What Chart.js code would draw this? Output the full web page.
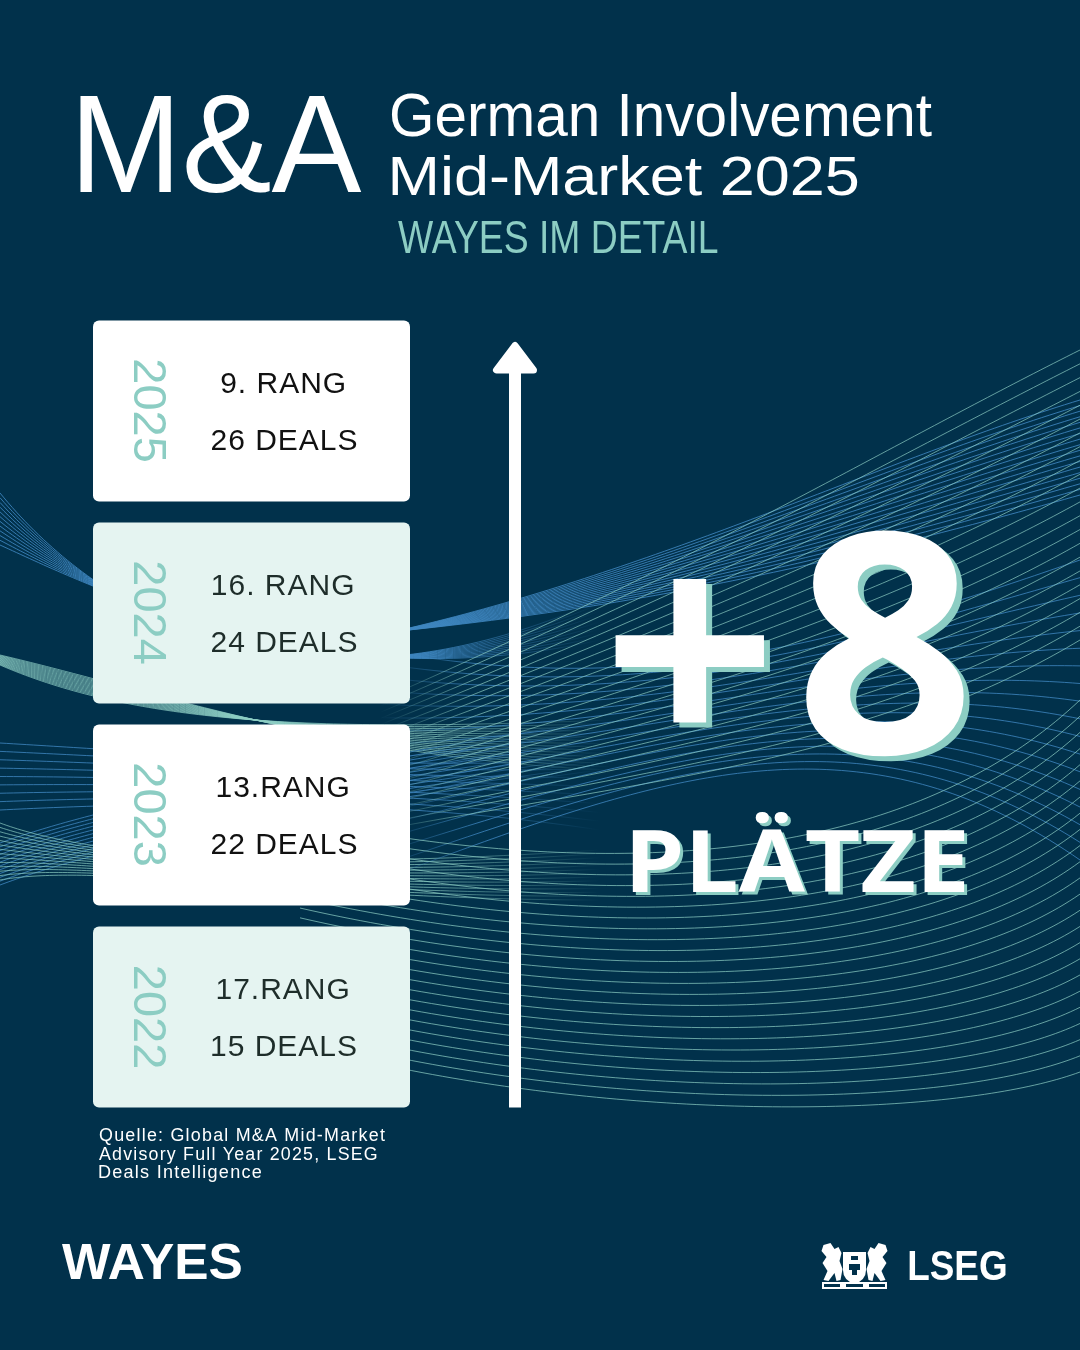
<!DOCTYPE html>
<html>
<head>
<meta charset="utf-8">
<script src="https://cdn.jsdelivr.net/npm/chart.js@4.4.1/dist/chart.umd.min.js"></script>
<style>
  html, body { margin: 0; padding: 0; background: #01314B; }
  canvas { display: block; }
</style>
</head>
<body>
<canvas id="c" width="1080" height="1350"></canvas>
<script>
// ---- data ----
const years = [2022, 2023, 2024, 2025];
const ranks = [17, 13, 16, 9];
const deals = [15, 22, 24, 26];
const rankSep = ['', '', ' ', ' '];

// ---- colours ----
const NAVY = '#01314B';
const TEAL = '#8CCDC3';
const MINT = '#E5F4F1';
const WHITE = '#FFFFFF';
const BLUE_RGB = '62,134,192';
const TEAL_RGB = '140,205,195';

// ---- decorative wave families (two boundary cubic curves, n lines between, alpha ramp along x) ----
const waves = [
  { c: BLUE_RGB, a: 0.85, n: 12, f: [[0,1],[430,1],[600,0]], P: [[0,493],[120,640],[330,720],[600,600]], Q: [[0,545],[120,600],[330,700],[600,640]] },
  { c: TEAL_RGB, a: 0.7,  n: 16, f: [[0,1],[430,1],[610,0]], P: [[0,655],[150,690],[350,760],[610,770]], Q: [[0,665],[150,730],[350,730],[610,720]] },
  { c: BLUE_RGB, a: 0.8,  n: 9,  f: [[0,1],[420,1],[600,0]], P: [[0,743],[200,755],[400,770],[600,760]], Q: [[0,810],[200,800],[400,800],[600,830]] },
  { c: BLUE_RGB, a: 0.8,  n: 12, f: [[0,1],[420,1],[600,0]], P: [[0,843],[120,800],[300,770],[600,720]], Q: [[0,885],[120,840],[300,810],[600,770]] },
  { c: TEAL_RGB, a: 0.7,  n: 14, f: [[0,1],[420,1],[600,0]], P: [[0,823],[100,860],[300,870],[600,850]], Q: [[0,880],[100,862],[300,900],[600,900]] },
  { c: BLUE_RGB, a: 0.85, n: 18, f: [[300,0],[440,1],[1080,1]], P: [[300,650],[600,600],[850,470],[1080,400]], Q: [[300,640],[620,615],[850,560],[1080,495]] },
  { c: BLUE_RGB, a: 0.8,  n: 18, f: [[380,0],[480,1],[1080,1]], P: [[380,650],[650,700],[850,640],[1080,560]], Q: [[380,880],[650,780],[850,700],[1080,860]] },
  { c: TEAL_RGB, a: 0.7,  n: 22, f: [[380,0],[480,1],[1080,1]], P: [[1080,350],[880,450],[700,560],[380,700]], Q: [[1080,640],[880,760],[650,780],[380,830]] },
  { c: TEAL_RGB, a: 0.72, n: 24, f: [[0,1],[1080,1]], P: [[300,820],[600,880],[900,870],[1080,700]], Q: [[300,1045],[600,1125],[950,1120],[1080,1072]] }
];

function bez(p, t) {
  const u = 1 - t;
  const a = u*u*u, b = 3*u*u*t, c = 3*u*t*t, d = t*t*t;
  return [a*p[0][0] + b*p[1][0] + c*p[2][0] + d*p[3][0],
          a*p[0][1] + b*p[1][1] + c*p[2][1] + d*p[3][1]];
}

function drawWaves(ctx) {
  ctx.save();
  ctx.lineWidth = 1;
  waves.forEach(fam => {
    const g = ctx.createLinearGradient(0, 0, 1080, 0);
    fam.f.forEach(([x, al]) => g.addColorStop(Math.min(1, Math.max(0, x / 1080)), 'rgba(' + fam.c + ',' + (al * fam.a).toFixed(3) + ')'));
    ctx.strokeStyle = g;
    for (let i = 0; i < fam.n; i++) {
      const s = fam.n === 1 ? 0 : i / (fam.n - 1);
      ctx.beginPath();
      for (let k = 0; k <= 90; k++) {
        const t = k / 90;
        const p = bez(fam.P, t), q = bez(fam.Q, t);
        const x = p[0] + (q[0] - p[0]) * s, y = p[1] + (q[1] - p[1]) * s;
        if (k === 0) ctx.moveTo(x, y); else ctx.lineTo(x, y);
      }
      ctx.stroke();
    }
  });
  ctx.restore();
}

// fit text ink into a box
function fitInk(ctx, text, font, L, T, R, B, color, shadow) {
  ctx.save();
  ctx.letterSpacing = '0px';
  ctx.textAlign = 'left';
  ctx.textBaseline = 'alphabetic';
  ctx.font = font.replace('{S}', '100');
  const m0 = ctx.measureText(text);
  const k0 = (B - T) / (m0.actualBoundingBoxAscent + m0.actualBoundingBoxDescent);
  ctx.font = font.replace('{S}', (100 * k0).toFixed(2));
  const m = ctx.measureText(text);
  const asc = m.actualBoundingBoxAscent, desc = m.actualBoundingBoxDescent;
  const l = m.actualBoundingBoxLeft, r = m.actualBoundingBoxRight;
  const sy = (B - T) / (asc + desc);
  const sx = (R - L) / (l + r);
  const draw = (dx, dy, c) => {
    ctx.save();
    ctx.translate(L + dx, T + dy);
    ctx.scale(sx, sy);
    ctx.fillStyle = c;
    ctx.fillText(text, l, asc);
    ctx.restore();
  };
  if (shadow) draw(shadow.dx, shadow.dy, shadow.color);
  draw(0, 0, color);
  ctx.restore();
}

// fixed size, fit ink width, left aligned at baseline
function fitWidth(ctx, text, font, spacing, x, baseline, width, color) {
  ctx.save();
  ctx.font = font;
  ctx.letterSpacing = spacing;
  ctx.textAlign = 'left';
  ctx.textBaseline = 'alphabetic';
  const m = ctx.measureText(text);
  const w = m.actualBoundingBoxLeft + m.actualBoundingBoxRight;
  const sx = width / w;
  ctx.translate(x, 0);
  ctx.scale(sx, 1);
  ctx.fillStyle = color;
  ctx.fillText(text, m.actualBoundingBoxLeft, baseline);
  ctx.restore();
}

function inkCenter(ctx, text, cx, cy, rot) {
  const m = ctx.measureText(text);
  const ox = (m.actualBoundingBoxRight - m.actualBoundingBoxLeft) / 2;
  const oy = (m.actualBoundingBoxDescent - m.actualBoundingBoxAscent) / 2;
  ctx.save();
  ctx.translate(cx, cy);
  if (rot) ctx.rotate(rot);
  ctx.textAlign = 'left';
  ctx.textBaseline = 'alphabetic';
  ctx.fillText(text, -ox, -oy);
  ctx.restore();
}

function drawCrest(ctx, x0, y0) {
  ctx.save();
  ctx.fillStyle = WHITE;
  // shield
  ctx.beginPath();
  ctx.moveTo(x0 + 22, y0 + 9);
  ctx.lineTo(x0 + 45, y0 + 9);
  ctx.lineTo(x0 + 45, y0 + 27);
  ctx.quadraticCurveTo(x0 + 45, y0 + 37, x0 + 33.5, y0 + 41);
  ctx.quadraticCurveTo(x0 + 22, y0 + 37, x0 + 22, y0 + 27);
  ctx.closePath();
  ctx.fill();
  ctx.fillStyle = NAVY;
  ctx.fillRect(x0 + 30, y0 + 13, 7, 4);
  ctx.fillRect(x0 + 28, y0 + 21, 11, 6);
  ctx.fillRect(x0 + 31, y0 + 27, 5, 5);
  // griffins
  ctx.fillStyle = WHITE;
  [1, -1].forEach(dir => {
    ctx.save();
    ctx.translate(x0 + 33.5, 0);
    ctx.scale(dir, 1);
    ctx.beginPath();
    ctx.moveTo(-31, y0 + 2);
    ctx.lineTo(-24, y0 + 0);
    ctx.lineTo(-20, y0 + 6);
    ctx.lineTo(-16, y0 + 4);
    ctx.lineTo(-13, y0 + 10);
    ctx.lineTo(-15, y0 + 18);
    ctx.lineTo(-12, y0 + 26);
    ctx.lineTo(-14, y0 + 37);
    ctx.lineTo(-18, y0 + 38);
    ctx.lineTo(-20, y0 + 30);
    ctx.lineTo(-26, y0 + 38);
    ctx.lineTo(-31, y0 + 37);
    ctx.lineTo(-27, y0 + 28);
    ctx.lineTo(-32, y0 + 20);
    ctx.lineTo(-28, y0 + 14);
    ctx.lineTo(-33, y0 + 8);
    ctx.closePath();
    ctx.fill();
    ctx.restore();
  });
  // ribbon
  ctx.fillRect(x0 + 1, y0 + 39, 65, 7);
  ctx.fillStyle = NAVY;
  ctx.fillRect(x0 + 3, y0 + 41, 16, 3);
  ctx.fillRect(x0 + 25, y0 + 41, 17, 3);
  ctx.fillRect(x0 + 48, y0 + 41, 16, 3);
  ctx.restore();
}

const backgroundPlugin = {
  id: 'bg',
  beforeDraw(chart) {
    const ctx = chart.ctx;
    ctx.save();
    ctx.fillStyle = NAVY;
    ctx.fillRect(0, 0, chart.width, chart.height);
    ctx.restore();
    drawWaves(ctx);
  }
};

const overlayPlugin = {
  id: 'overlay',
  afterDatasetsDraw(chart) {
    const ctx = chart.ctx;
    const meta = chart.getDatasetMeta(0);

    // texts inside boxes
    meta.data.forEach((bar, i) => {
      const left = Math.min(bar.base, bar.x);
      const cy = bar.y;
      const isMint = i % 2 === 0;
      ctx.save();
      ctx.font = '47px "Liberation Sans"';
      ctx.letterSpacing = '0px';
      ctx.fillStyle = TEAL;
      inkCenter(ctx, String(years[i]), left + 57, cy, Math.PI / 2);
      ctx.font = '30px "Liberation Sans"';
      ctx.letterSpacing = '1px';
      ctx.fillStyle = isMint ? '#1E2D2A' : '#111111';
      inkCenter(ctx, ranks[i] + '.' + rankSep[i] + 'RANG', left + 190, cy - 28.5);
      inkCenter(ctx, deals[i] + ' DEALS', left + 191, cy + 28.5);
      ctx.restore();
    });

    // arrow
    const topBar = meta.data[years.length - 1];
    const botBar = meta.data[0];
    const tip = topBar.y - topBar.height / 2 + 21;
    const bottom = botBar.y + botBar.height / 2;
    const ax = 515;
    ctx.save();
    ctx.fillStyle = WHITE;
    ctx.strokeStyle = WHITE;
    ctx.fillRect(ax - 6, tip + 28, 12, bottom - (tip + 28));
    ctx.lineJoin = 'round';
    ctx.lineWidth = 7;
    ctx.beginPath();
    ctx.moveTo(ax, tip + 4);
    ctx.lineTo(ax - 18.5, tip + 28.5);
    ctx.lineTo(ax + 18.5, tip + 28.5);
    ctx.closePath();
    ctx.fill();
    ctx.stroke();
    ctx.restore();

    // big "+8"
    const gain = ranks[0] - ranks[ranks.length - 1];
    const sh = { dx: 6, dy: 5, color: TEAL };
    fitInk(ctx, '+', '700 {S}px "Open Sans"', 612, 575, 765, 723, WHITE, sh);
    fitInk(ctx, String(gain), '700 {S}px "Open Sans"', 805, 527, 967, 758, WHITE, sh);
    fitInk(ctx, 'PLÄTZE', '700 {S}px "Open Sans"', 632, 812, 965, 892, WHITE, { dx: 3, dy: 3, color: TEAL });

    // title block
    fitInk(ctx, 'M&A', '400 {S}px "Liberation Sans"', 80, 95, 362, 193, WHITE);
    fitInk(ctx, 'German Involvement', '400 {S}px "Liberation Sans"', 392, 92, 932, 137, WHITE);
    fitInk(ctx, 'Mid-Market 2025', '400 {S}px "Liberation Sans"', 392, 154, 858, 196, WHITE);
    fitInk(ctx, 'WAYES IM DETAIL', '400 {S}px "Liberation Sans"', 398, 221, 718, 253, TEAL);

    // source
    fitWidth(ctx, 'Quelle: Global M&A Mid-Market', '17.5px "Liberation Sans"', '1.2px', 99, 1141, 286, WHITE);
    fitWidth(ctx, 'Advisory Full Year 2025, LSEG', '17.5px "Liberation Sans"', '1.2px', 99, 1159.5, 278, WHITE);
    fitWidth(ctx, 'Deals Intelligence', '17.5px "Liberation Sans"', '1.2px', 99, 1178, 162, WHITE);

    // logos
    fitInk(ctx, 'WAYES', '700 {S}px "Liberation Sans"', 62, 1243, 241, 1279, WHITE);
    fitInk(ctx, 'LSEG', '700 {S}px "Liberation Sans"', 909, 1251, 1006, 1280, WHITE);
    drawCrest(ctx, 821, 1243);
  }
};

new Chart(document.getElementById('c'), {
  type: 'bar',
  data: {
    labels: years.map(String),
    datasets: [{
      data: years.map(() => 1),
      backgroundColor: years.map((y, i) => (i % 2 === 0 ? MINT : WHITE)),
      borderRadius: 6,
      borderSkipped: false,
      borderWidth: 0,
      barPercentage: 0.896,
      categoryPercentage: 1
    }]
  },
  options: {
    indexAxis: 'y',
    responsive: false,
    animation: false,
    devicePixelRatio: 1,
    events: [],
    layout: { padding: { left: 93, right: 670, top: 310, bottom: 232 } },
    scales: {
      x: { display: false, min: 0, max: 1 },
      y: { display: false, reverse: true }
    },
    plugins: { legend: { display: false }, tooltip: { enabled: false } }
  },
  plugins: [backgroundPlugin, overlayPlugin]
});
</script>
</body>
</html>
